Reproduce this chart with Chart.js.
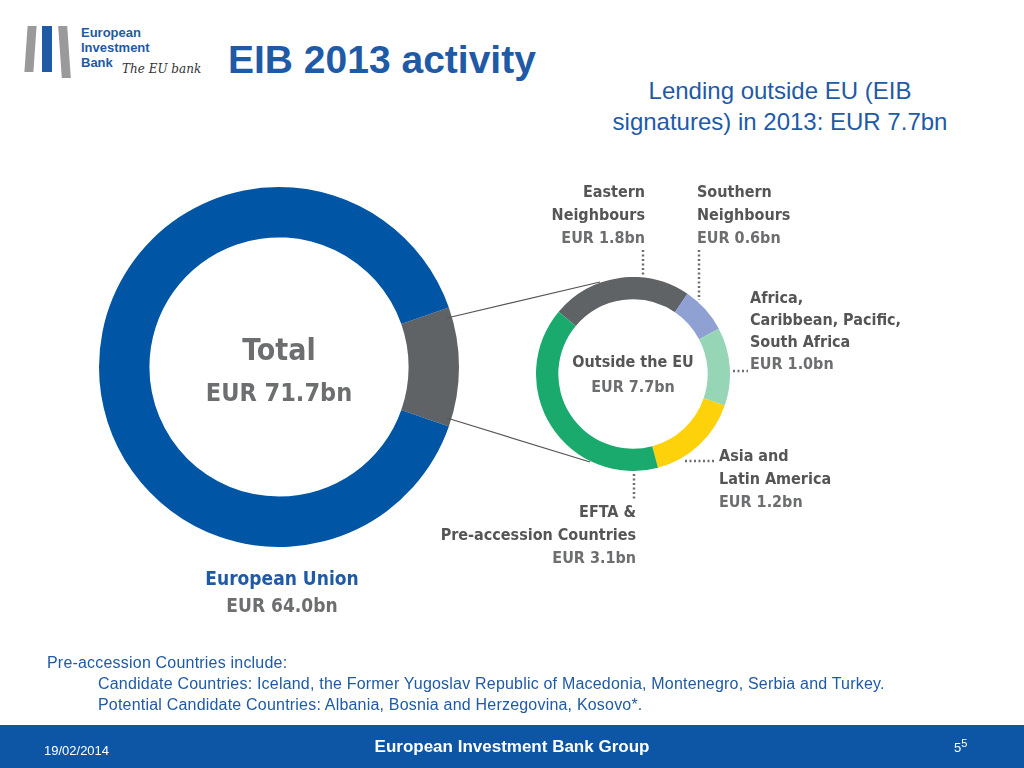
<!DOCTYPE html>
<html>
<head>
<meta charset="utf-8">
<script src="https://cdn.jsdelivr.net/npm/chart.js@4"></script>
<style>
  body { margin: 0; width: 1024px; height: 768px; position: relative; background: #fff; overflow: hidden;
         font-family: "Liberation Sans", Arial, sans-serif; }
  .abs { position: absolute; white-space: nowrap; }
  .cond { font-family: "Liberation Sans Narrow", "DejaVu Sans", sans-serif; font-stretch: condensed; font-weight: bold; color: #6d6e70; }
  .lbl { font-size: 16px; line-height: 23px; }
  .blue { color: #1f5aa6; }
  #footer { position: absolute; left: 0; top: 725px; width: 1024px; height: 43px; background: #0d56a5; color: #fff; }
</style>
</head>
<body>
<!-- logo -->
<div class="abs" style="left:26px;top:26px;width:9px;height:46px;background:#9a9a9a;transform:skewX(-4deg)"></div>
<div class="abs" style="left:42px;top:26px;width:10px;height:46px;background:#1f5aa6"></div>
<div class="abs" style="left:60px;top:26px;width:9px;height:52px;background:#9a9a9a;transform:skewX(4deg)"></div>
<div class="abs blue" style="left:81px;top:25px;font-size:13px;line-height:15px;font-weight:bold">European<br>Investment<br>Bank</div>
<div class="abs" style="left:122px;top:62px;font-size:12px;font-style:italic;font-family:'DejaVu Serif',serif;color:#333">The EU bank</div>

<div class="abs blue" style="left:228px;top:38px;font-size:39px;font-weight:bold">EIB 2013 activity</div>
<div class="abs blue" style="left:560px;top:75px;width:440px;text-align:center;font-size:24px;line-height:31px;white-space:normal">Lending outside EU (EIB<br>signatures) in 2013: EUR 7.7bn</div>

<div class="abs" style="left:99px;top:187px;width:360px;height:360px"><canvas id="big" width="360" height="360"></canvas></div>
<div class="abs" style="left:536px;top:277px;width:194px;height:194px"><canvas id="small" width="194" height="194"></canvas></div>

<svg class="abs" style="left:0;top:0" width="1024" height="768">
  <g stroke="#555" stroke-width="1.2">
    <line x1="447" y1="318" x2="600" y2="282"/>
    <line x1="447" y1="418" x2="590" y2="462"/>
  </g>
  <g stroke="#6d6e70" stroke-width="2.5" stroke-dasharray="2,2.5">
    <line x1="643" y1="250" x2="643" y2="276"/>
    <line x1="699" y1="250" x2="699" y2="300"/>
    <line x1="733" y1="371" x2="748" y2="371"/>
    <line x1="685" y1="461" x2="716" y2="461"/>
    <line x1="634" y1="474" x2="634" y2="499"/>
  </g>
</svg>

<div class="abs cond" style="left:179px;top:332px;width:200px;text-align:center;font-size:30px">Total</div>
<div class="abs cond" style="left:179px;top:378px;width:200px;text-align:center;font-size:25px">EUR 71.7bn</div>
<div class="abs cond" style="left:182px;top:565px;width:200px;text-align:center;font-size:19px;line-height:27px"><span class="blue">European Union</span><br>EUR 64.0bn</div>
<div class="abs cond" style="left:563px;top:349px;width:140px;text-align:center;font-size:16px;line-height:25px"><span style="color:#555">Outside the EU</span><br>EUR 7.7bn</div>

<div class="abs cond lbl" style="left:545px;top:180px;width:100px;text-align:right"><span style="color:#555">Eastern<br>Neighbours</span><br>EUR 1.8bn</div>
<div class="abs cond lbl" style="left:697px;top:180px"><span style="color:#555">Southern<br>Neighbours</span><br>EUR 0.6bn</div>
<div class="abs cond lbl" style="left:750px;top:287px;line-height:22px"><span style="color:#555">Africa,<br>Caribbean, Pacific,<br>South Africa</span><br>EUR 1.0bn</div>
<div class="abs cond lbl" style="left:719px;top:444px"><span style="color:#555">Asia and<br>Latin America</span><br>EUR 1.2bn</div>
<div class="abs cond lbl" style="left:436px;top:500px;width:200px;text-align:right"><span style="color:#555">EFTA &amp;<br>Pre-accession Countries</span><br>EUR 3.1bn</div>

<div class="abs blue" style="left:47px;top:652px;font-size:16px;line-height:21px;letter-spacing:0.2px">Pre-accession Countries include:</div>
<div class="abs blue" style="left:98px;top:673px;font-size:16px;line-height:21px;letter-spacing:0.2px">Candidate Countries: Iceland, the Former Yugoslav Republic of Macedonia, Montenegro, Serbia and Turkey.<br>Potential Candidate Countries: Albania, Bosnia and Herzegovina, Kosovo*.</div>

<div id="footer">
  <div class="abs" style="left:44px;top:18px;font-size:13px">19/02/2014</div>
  <div class="abs" style="left:312px;top:12px;width:400px;text-align:center;font-size:17px;font-weight:bold">European Investment Bank Group</div>
  <div class="abs" style="left:954px;top:12px;font-size:13px">5<sup style="font-size:11px">5</sup></div>
</div>

<script>
// Data
const totalLabels = ['Outside the EU', 'European Union'];
const totalValues = [7.7, 64.0];
const totalColors = ['#5f6366', '#0055a4'];

const outsideLabels = ['Eastern Neighbours', 'Southern Neighbours', 'Africa, Caribbean, Pacific, South Africa', 'Asia and Latin America', 'EFTA & Pre-accession Countries'];
const outsideValues = [1.8, 0.6, 1.0, 1.2, 3.1];
const outsideColors = ['#5f6366', '#8fa0d2', '#96d5b6', '#fdd20a', '#1aaa6e'];

const baseOptions = {
    responsive: false,
    animation: false,
    plugins: { legend: { display: false }, tooltip: { enabled: false } }
};

// gray slice centred at 3 o'clock
const grayAngle = totalValues[0] / (totalValues[0] + totalValues[1]) * 360;
new Chart(document.getElementById('big'), {
    type: 'doughnut',
    data: { labels: totalLabels, datasets: [{ data: totalValues, backgroundColor: totalColors, borderWidth: 0 }] },
    options: { ...baseOptions, cutout: '72%', rotation: 90 - grayAngle / 2 }
});

new Chart(document.getElementById('small'), {
    type: 'doughnut',
    data: { labels: outsideLabels, datasets: [{ data: outsideValues, backgroundColor: outsideColors, borderWidth: 0 }] },
    options: { ...baseOptions, cutout: '77%', rotation: -50 }
});
</script>
</body>
</html>
